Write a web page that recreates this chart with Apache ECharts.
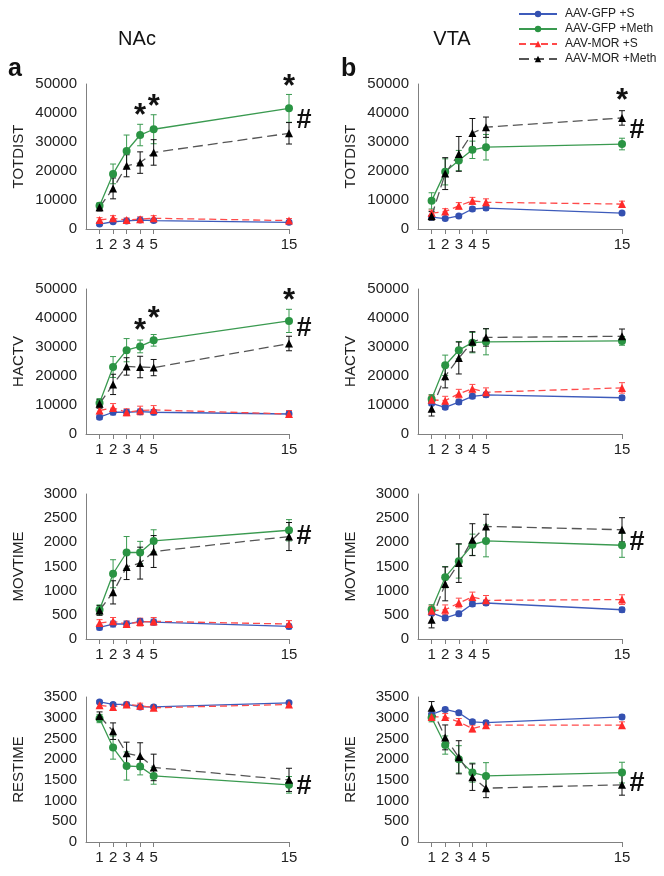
<!DOCTYPE html>
<html>
<head>
<meta charset="utf-8">
<script src="https://cdn.jsdelivr.net/npm/echarts@6/dist/echarts.min.js"></script>
<style>
  html, body { margin: 0; padding: 0; background: #fff; }
  #main { width: 664px; height: 876px; }
</style>
</head>
<body>
<div id="main"></div>
<script>
// days of testing (x axis)
var days = [1, 2, 3, 4, 5, 15];
var groupNames = ['AAV-GFP +S', 'AAV-GFP +Meth', 'AAV-MOR +S', 'AAV-MOR +Meth'];
var measureNames = ['TOTDIST', 'HACTV', 'MOVTIME', 'RESTIME'];

// means per group: GFP+S, GFP+Meth, MOR+S, MOR+Meth
var nacTotdist = [
  [1700, 2500, 2800, 3100, 2900, 2300],
  [8000, 19000, 26900, 32400, 34400, 41600],
  [3100, 3700, 3100, 3400, 3700, 2900],
  [7500, 14000, 21800, 22900, 26400, 33000]
];
var nacTotdistErr = [
  [500, 600, 600, 600, 600, 500],
  [1000, 3400, 5500, 3700, 5000, 4800],
  [800, 900, 700, 800, 900, 700],
  [1300, 3600, 3800, 3700, 4400, 3700]
];
var vtaTotdist = [
  [4100, 3600, 4500, 6900, 7200, 5500],
  [9700, 19700, 23600, 27300, 28200, 29300],
  [5500, 6000, 8000, 9700, 9200, 8600],
  [4500, 19100, 25900, 33100, 35100, 38300]
];
var vtaTotdistErr = [
  [600, 500, 600, 700, 700, 600],
  [2800, 4500, 3500, 3000, 4400, 2000],
  [1000, 1000, 1100, 1200, 1200, 1000],
  [1500, 5500, 6000, 5000, 3500, 2500]
];
var nacHactv = [
  [5800, 7500, 7500, 7700, 7500, 6900],
  [10700, 23100, 28900, 30200, 32300, 39000],
  [8100, 9000, 7500, 8100, 8300, 6900],
  [10400, 17100, 23300, 23100, 22900, 31200]
];
var nacHactvErr = [
  [700, 900, 900, 900, 900, 800],
  [1500, 3600, 4000, 2200, 2000, 4000],
  [1200, 1500, 1200, 1500, 1500, 1200],
  [1500, 3500, 3000, 3700, 2800, 2500]
];
var vtaHactv = [
  [10600, 9200, 11000, 13000, 13500, 12500],
  [12100, 23700, 28900, 31500, 31800, 32100],
  [11800, 11500, 13900, 15600, 14400, 15900],
  [8700, 19900, 26200, 31800, 33300, 33700]
];
var vtaHactvErr = [
  [800, 700, 800, 800, 800, 800],
  [1500, 3500, 3000, 3500, 4500, 1500],
  [1500, 1500, 1500, 1500, 1500, 1800],
  [2500, 4000, 5500, 3500, 3000, 2500]
];
var nacMovtime = [
  [240, 310, 310, 365, 350, 260],
  [605, 1350, 1790, 1790, 2030, 2250],
  [330, 365, 310, 350, 365, 310],
  [590, 965, 1490, 1570, 1810, 2120]
];
var nacMovtimeErr = [
  [50, 60, 60, 60, 60, 50],
  [100, 290, 330, 230, 230, 220],
  [70, 80, 60, 80, 80, 70],
  [100, 240, 260, 330, 330, 290]
];
var vtaMovtime = [
  [540, 435, 525, 725, 745, 605],
  [610, 1280, 1610, 1950, 2030, 1940],
  [585, 605, 745, 870, 800, 815],
  [400, 1140, 1570, 2055, 2330, 2260]
];
var vtaMovtimeErr = [
  [50, 50, 50, 50, 50, 50],
  [100, 220, 350, 220, 330, 250],
  [100, 100, 100, 100, 100, 100],
  [170, 350, 400, 330, 250, 250]
];
var nacRestime = [
  [3380, 3320, 3320, 3260, 3260, 3360],
  [2980, 2280, 1835, 1820, 1595, 1380],
  [3300, 3260, 3320, 3290, 3240, 3320],
  [3040, 2675, 2140, 2075, 1800, 1500]
];
var nacRestimeErr = [
  [40, 40, 40, 40, 40, 40],
  [100, 280, 340, 200, 200, 200],
  [60, 60, 60, 60, 60, 60],
  [100, 200, 270, 320, 320, 280]
];
var vtaRestime = [
  [3080, 3200, 3120, 2900, 2880, 3020],
  [3000, 2340, 1995, 1675, 1595, 1675],
  [3020, 3020, 2900, 2740, 2820, 2820],
  [3240, 2525, 2045, 1565, 1300, 1380]
];
var vtaRestimeErr = [
  [50, 50, 50, 50, 50, 50],
  [100, 220, 330, 230, 320, 250],
  [80, 80, 80, 80, 80, 80],
  [150, 300, 400, 320, 230, 250]
];

// y axis ranges
var yMax = [50000, 50000, 3000, 3500];
var yStep = [10000, 10000, 500, 500];

// significance marks, [day, value]
var nacTotdistStars = [[4, 41600], [5, 44500], [15, 51700]];
var nacHactvStars = [[4, 38100], [5, 42100], [15, 48500]];
var vtaTotdistStars = [[15, 46900]];
var nacHash = [[15, 37400], [15, 36400], [15, 2124], [15, 1338]];
var vtaHash = [[15, 33900], null, [15, 1986], [15, 1418]];
</script>
<script>
var myChart = echarts.init(document.getElementById('main'));

var FONT = '"Liberation Sans", Arial, sans-serif';
var colors = ['#3450b0', '#2a9443', '#ff2a2a', '#000000'];
var lineColors = ['#3d5bbb', '#3a9a50', '#ff4a4a', '#555555'];
var barColors = ['#3d5bbb', '#3a9a50', '#ff4a4a', '#111111'];
var symbols = ['circle', 'circle', 'triangle', 'triangle'];
var symSizes = [7, 8, 8, 8];
var lineTypes = ['solid', 'solid', [7, 4], [10, 5]];

var panels = [
  { col: 0, row: 0, mean: nacTotdist, err: nacTotdistErr, stars: nacTotdistStars, hash: nacHash[0] },
  { col: 0, row: 1, mean: nacHactv, err: nacHactvErr, stars: nacHactvStars, hash: nacHash[1] },
  { col: 0, row: 2, mean: nacMovtime, err: nacMovtimeErr, stars: [], hash: nacHash[2] },
  { col: 0, row: 3, mean: nacRestime, err: nacRestimeErr, stars: [], hash: nacHash[3] },
  { col: 1, row: 0, mean: vtaTotdist, err: vtaTotdistErr, stars: vtaTotdistStars, hash: vtaHash[0] },
  { col: 1, row: 1, mean: vtaHactv, err: vtaHactvErr, stars: [], hash: vtaHash[1] },
  { col: 1, row: 2, mean: vtaMovtime, err: vtaMovtimeErr, stars: [], hash: vtaHash[2] },
  { col: 1, row: 3, mean: vtaRestime, err: vtaRestimeErr, stars: [], hash: vtaHash[3] }
];

var gridLeft = [86, 418];
var gridTop = [84, 289, 494, 697];

function renderErr(params, api) {
  var x = api.value(0), m = api.value(1), e = api.value(2);
  var top = api.coord([x, m + e]);
  var bot = api.coord([x, m - e]);
  var c = api.visual('color');
  var w = 3;
  var st = { stroke: c, lineWidth: 1 };
  return {
    type: 'group',
    children: [
      { type: 'line', shape: { x1: top[0], y1: top[1], x2: bot[0], y2: bot[1] }, style: st },
      { type: 'line', shape: { x1: top[0] - w, y1: top[1], x2: top[0] + w, y2: top[1] }, style: st },
      { type: 'line', shape: { x1: bot[0] - w, y1: bot[1], x2: bot[0] + w, y2: bot[1] }, style: st }
    ]
  };
}

// text marks (* and #) drawn at data positions
function renderMark(params, api) {
  var pt = api.coord([api.value(0), api.value(1)]);
  var isStar = api.value(2) === 0;
  return {
    type: 'text',
    x: pt[0] + (isStar ? 0 : 15),
    y: pt[1] + (isStar ? 8 : 0),
    style: {
      text: isStar ? '*' : '#',
      font: (isStar ? 'bold 31px ' : 'bold 27px ') + FONT,
      fill: '#111',
      textAlign: 'center',
      textVerticalAlign: 'middle'
    }
  };
}

var grids = [], xAxes = [], yAxes = [], series = [];

panels.forEach(function (p, i) {
  grids.push({ left: gridLeft[p.col], top: gridTop[p.row], width: p.col ? 204 : 203, height: 145 });
  xAxes.push({
    type: 'value', gridIndex: i, min: 0, max: 15,
    splitLine: { show: false },
    axisLine: { lineStyle: { color: '#808080' } },
    axisTick: { show: true, customValues: days, length: 5, lineStyle: { color: '#808080' } },
    axisLabel: { customValues: days, color: '#222', fontSize: 15, fontFamily: FONT, margin: 8 }
  });
  yAxes.push({
    type: 'value', gridIndex: i, min: 0, max: yMax[p.row], interval: yStep[p.row],
    name: measureNames[p.row], nameLocation: 'middle', nameGap: 60,
    nameTextStyle: { color: '#222', fontSize: 15, fontFamily: FONT },
    splitLine: { show: false },
    axisLine: { show: true, lineStyle: { color: '#808080' } },
    axisTick: { show: false },
    axisLabel: { color: '#222', fontSize: 15, fontFamily: FONT, margin: 9, formatter: function (v) { return String(v); } }
  });

  for (var g = 0; g < 4; g++) {
    series.push({
      type: 'custom', name: 'err' + i + '_' + g, xAxisIndex: i, yAxisIndex: i,
      renderItem: renderErr, z: 1, silent: true,
      itemStyle: { color: barColors[g] },
      data: days.map(function (d, k) { return [d, p.mean[g][k], p.err[g][k]]; })
    });
  }
  for (var g2 = 0; g2 < 4; g2++) {
    series.push({
      type: 'line', name: groupNames[g2], xAxisIndex: i, yAxisIndex: i,
      z: 3, symbol: symbols[g2], symbolSize: symSizes[g2], showSymbol: true,
      lineStyle: { color: lineColors[g2], width: 1.3, type: lineTypes[g2] },
      itemStyle: { color: colors[g2] },
      data: days.map(function (d, k) { return [d, p.mean[g2][k]]; })
    });
  }
  var marks = p.stars.map(function (s) { return [s[0], s[1], 0]; });
  if (p.hash) marks.push([p.hash[0], p.hash[1], 1]);
  series.push({
    type: 'custom', name: 'mark' + i, xAxisIndex: i, yAxisIndex: i, clip: false,
    renderItem: renderMark, silent: true, z: 5,
    data: marks
  });
});

var option = {
  backgroundColor: '#fff',
  animation: false,
  textStyle: { fontFamily: FONT },
  legend: {
    data: groupNames, orient: 'vertical', left: 513, top: 3,
    itemWidth: 38, itemHeight: 8, itemGap: 3,
    textStyle: { fontSize: 12, color: '#222', fontFamily: FONT, padding: [0, 0, 0, 3] }
  },
  graphic: [
    { type: 'text', x: 137, y: 39, style: { text: 'NAc', font: '20px ' + FONT, fill: '#111', textAlign: 'center', textVerticalAlign: 'middle' } },
    { type: 'text', x: 452, y: 39, style: { text: 'VTA', font: '20px ' + FONT, fill: '#111', textAlign: 'center', textVerticalAlign: 'middle' } },
    { type: 'text', x: 8, y: 82, style: { text: 'a', font: 'bold 25px ' + FONT, fill: '#111', textVerticalAlign: 'bottom' } },
    { type: 'text', x: 341, y: 82, style: { text: 'b', font: 'bold 25px ' + FONT, fill: '#111', textVerticalAlign: 'bottom' } }
  ],
  grid: grids,
  xAxis: xAxes,
  yAxis: yAxes,
  series: series
};

myChart.setOption(option);
</script>
</body>
</html>
